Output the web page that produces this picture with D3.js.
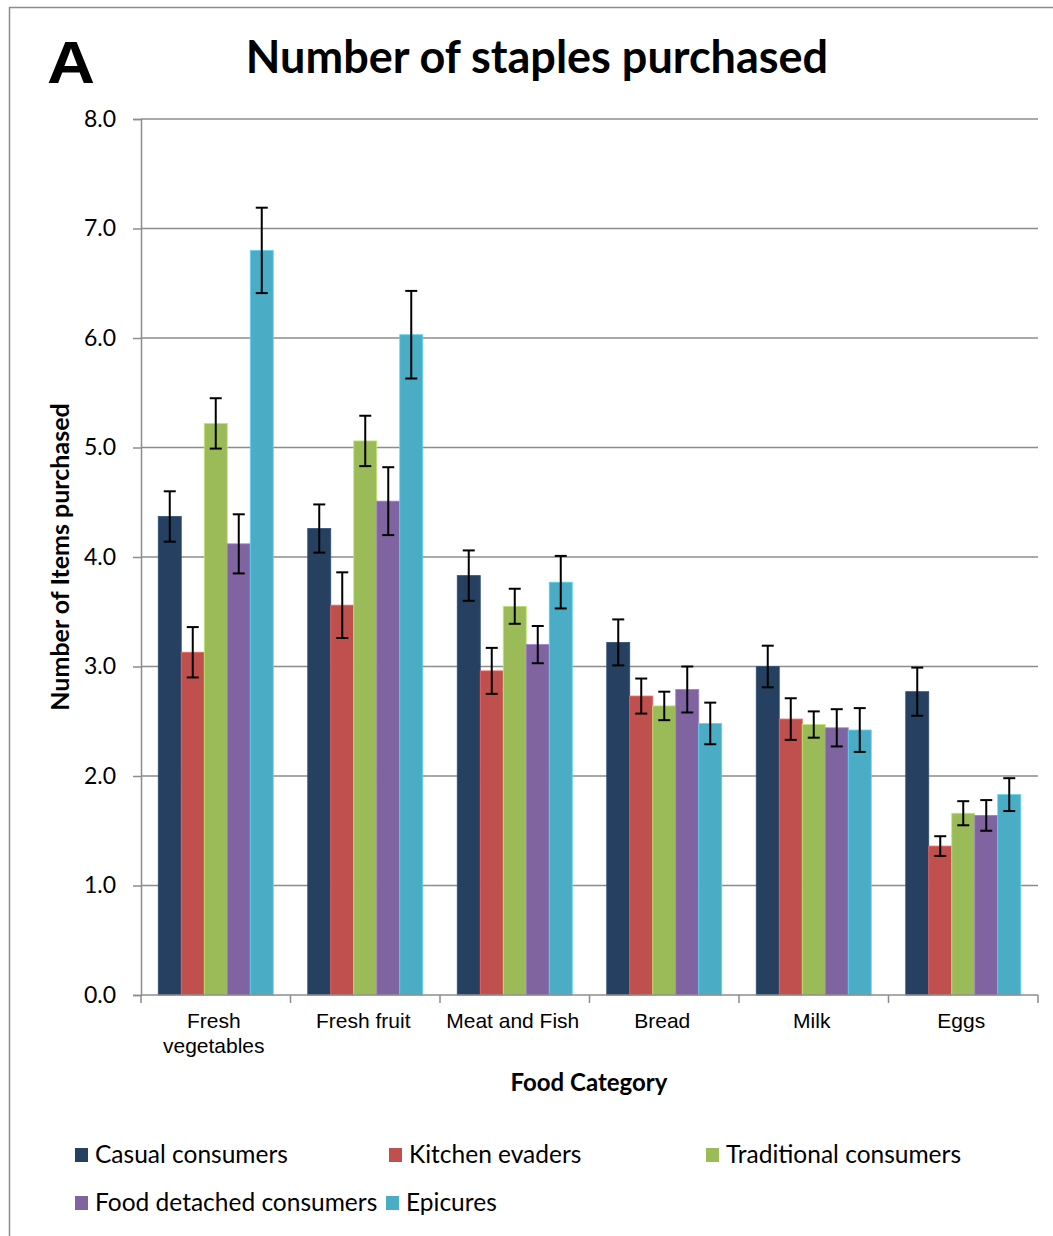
<!DOCTYPE html>
<html>
<head>
<meta charset="utf-8">
<script src="https://cdn.jsdelivr.net/npm/d3@7"></script>
<style>
  html, body { margin: 0; padding: 0; background: #fff; }
  svg { display: block; }
</style>
</head>
<body>
<svg id="chart" width="1053" height="1236"></svg>
<script>
// Food categories along the x axis
const categories = ["Fresh vegetables", "Fresh fruit", "Meat and Fish", "Bread", "Milk", "Eggs"];
const categoryLines = [["Fresh", "vegetables"], ["Fresh fruit"], ["Meat and Fish"], ["Bread"], ["Milk"], ["Eggs"]];

// Consumer segments (series)
const seriesNames = ["Casual consumers", "Kitchen evaders", "Traditional consumers", "Food detached consumers", "Epicures"];
const seriesColors = ["#264061", "#c0504d", "#9bbb59", "#8064a2", "#4bacc6"];

// Mean number of items purchased, one array per segment (order follows categories)
const casual      = [4.37, 4.26, 3.83, 3.22, 3.00, 2.77];
const kitchen     = [3.13, 3.56, 2.96, 2.73, 2.52, 1.36];
const traditional = [5.22, 5.06, 3.55, 2.64, 2.47, 1.66];
const detached    = [4.12, 4.51, 3.20, 2.79, 2.44, 1.64];
const epicures    = [6.80, 6.03, 3.77, 2.48, 2.42, 1.83];

// Error bar half-widths
const casualErr      = [0.23, 0.22, 0.23, 0.21, 0.19, 0.22];
const kitchenErr     = [0.23, 0.30, 0.21, 0.16, 0.19, 0.09];
const traditionalErr = [0.23, 0.23, 0.16, 0.13, 0.12, 0.11];
const detachedErr    = [0.27, 0.31, 0.17, 0.21, 0.17, 0.14];
const epicuresErr    = [0.39, 0.40, 0.24, 0.19, 0.20, 0.15];

const yTicks = [0, 1, 2, 3, 4, 5, 6, 7, 8];

const seriesValues = [casual, kitchen, traditional, detached, epicures];
const seriesErrors = [casualErr, kitchenErr, traditionalErr, detachedErr, epicuresErr];

const svg = d3.select("#chart");
const calibriLike = "Lato, 'Open Sans', sans-serif";
const arialLike = "'Liberation Sans', Arial, sans-serif";

// Outer chart frame
svg.append("rect")
  .attr("x", 9.5).attr("y", 7.5)
  .attr("width", 1100).attr("height", 1300)
  .attr("fill", "none").attr("stroke", "#8c8c8c").attr("stroke-width", 1.5);

// Panel letter
svg.append("text")
  .attr("x", 47).attr("y", 83)
  .attr("font-family", arialLike).attr("font-weight", "bold")
  .attr("font-size", 60).attr("fill", "#000")
  .attr("textLength", 48).attr("lengthAdjust", "spacingAndGlyphs")
  .text("A");

// Title
svg.append("text")
  .attr("x", 537).attr("y", 73)
  .attr("text-anchor", "middle")
  .attr("font-family", calibriLike).attr("font-weight", "bold")
  .attr("font-size", 45).attr("fill", "#000")
  .text("Number of staples purchased");

const plot = { left: 141, right: 1038, top: 119, bottom: 995 };

const x0 = d3.scaleBand().domain(categories).range([plot.left, plot.right]).paddingInner(0).paddingOuter(0);
const barW = x0.bandwidth() / 6.5;
const x1 = d3.scaleBand().domain(seriesNames).range([0, barW * 5]);
const groupOffset = (x0.bandwidth() - barW * 5) / 2;

const y = d3.scaleLinear().domain([0, 8]).range([plot.bottom, plot.top]);

// Horizontal gridlines
svg.append("g").selectAll("line").data(yTicks.filter(d => d > 0)).join("line")
  .attr("x1", plot.left).attr("x2", plot.right)
  .attr("y1", d => y(d)).attr("y2", d => y(d))
  .attr("stroke", "#8c8c8c").attr("stroke-width", 1.5);

// Y axis
const yAxis = svg.append("g")
  .attr("transform", `translate(${plot.left},0)`)
  .call(d3.axisLeft(y).tickValues(yTicks).tickFormat(d3.format(".1f")).tickSize(8).tickPadding(17));
yAxis.select(".domain").attr("stroke", "#8c8c8c").attr("stroke-width", 1.5);
yAxis.selectAll(".tick line").attr("stroke", "#8c8c8c").attr("stroke-width", 1.5);
yAxis.selectAll(".tick text")
  .attr("font-family", calibriLike).attr("font-size", 23).attr("fill", "#000");

// Bars
const groups = svg.append("g").selectAll("g").data(categories).join("g")
  .attr("transform", d => `translate(${x0(d) + groupOffset},0)`);

groups.each(function(cat, ci) {
  const g = d3.select(this);
  seriesNames.forEach((s, si) => {
    const v = seriesValues[si][ci];
    const e = seriesErrors[si][ci];
    const bx = x1(s);
    g.append("rect")
      .attr("x", bx).attr("y", y(v))
      .attr("width", barW).attr("height", y(0) - y(v))
      .attr("fill", seriesColors[si])
      .attr("stroke", d3.color(seriesColors[si]).brighter(0.6)).attr("stroke-width", 0.8);
    const cx = bx + barW / 2;
    const eb = g.append("g").attr("stroke", "#000").attr("stroke-width", 2);
    eb.append("line").attr("x1", cx).attr("x2", cx).attr("y1", y(v + e)).attr("y2", y(v - e));
    eb.append("line").attr("x1", cx - 6).attr("x2", cx + 6).attr("y1", y(v + e)).attr("y2", y(v + e));
    eb.append("line").attr("x1", cx - 6).attr("x2", cx + 6).attr("y1", y(v - e)).attr("y2", y(v - e));
  });
});

// X axis line and category separators
const xAxis = svg.append("g").attr("stroke", "#8c8c8c").attr("stroke-width", 1.5);
xAxis.append("line").attr("x1", plot.left).attr("x2", plot.right).attr("y1", plot.bottom).attr("y2", plot.bottom);
const boundaries = categories.map(c => x0(c)).concat([plot.right]);
xAxis.selectAll("line.sep").data(boundaries).join("line").attr("class", "sep")
  .attr("x1", d => d).attr("x2", d => d)
  .attr("y1", plot.bottom).attr("y2", plot.bottom + 8);

// Category labels
const catLabels = svg.append("g");
categories.forEach((c, ci) => {
  const cx = x0(c) + x0.bandwidth() / 2 - 2;
  const t = catLabels.append("text")
    .attr("x", cx).attr("y", 1028)
    .attr("text-anchor", "middle")
    .attr("font-family", arialLike).attr("font-size", 21).attr("fill", "#000");
  categoryLines[ci].forEach((line, li) => {
    t.append("tspan").attr("x", cx).attr("dy", li === 0 ? 0 : 25).text(line);
  });
});

// Axis titles
svg.append("text")
  .attr("x", 589).attr("y", 1091)
  .attr("text-anchor", "middle")
  .attr("font-family", calibriLike).attr("font-weight", "bold").attr("font-size", 24).attr("fill", "#000")
  .text("Food Category");

svg.append("text")
  .attr("transform", "translate(69,557) rotate(-90)")
  .attr("text-anchor", "middle")
  .attr("font-family", calibriLike).attr("font-weight", "bold").attr("font-size", 25).attr("fill", "#000")
  .text("Number of Items purchased");

// Legend
const legendPos = [[75, 1148], [389, 1148], [706, 1148], [75, 1196], [386, 1196]];
const legend = svg.append("g");
seriesNames.forEach((s, si) => {
  const [lx, ly] = legendPos[si];
  legend.append("rect").attr("x", lx).attr("y", ly).attr("width", 13).attr("height", 14).attr("fill", seriesColors[si]);
  legend.append("text")
    .attr("x", lx + 20).attr("y", ly + 15)
    .attr("font-family", calibriLike).attr("font-size", 24.5).attr("fill", "#000")
    .text(s);
});
</script>
</body>
</html>
